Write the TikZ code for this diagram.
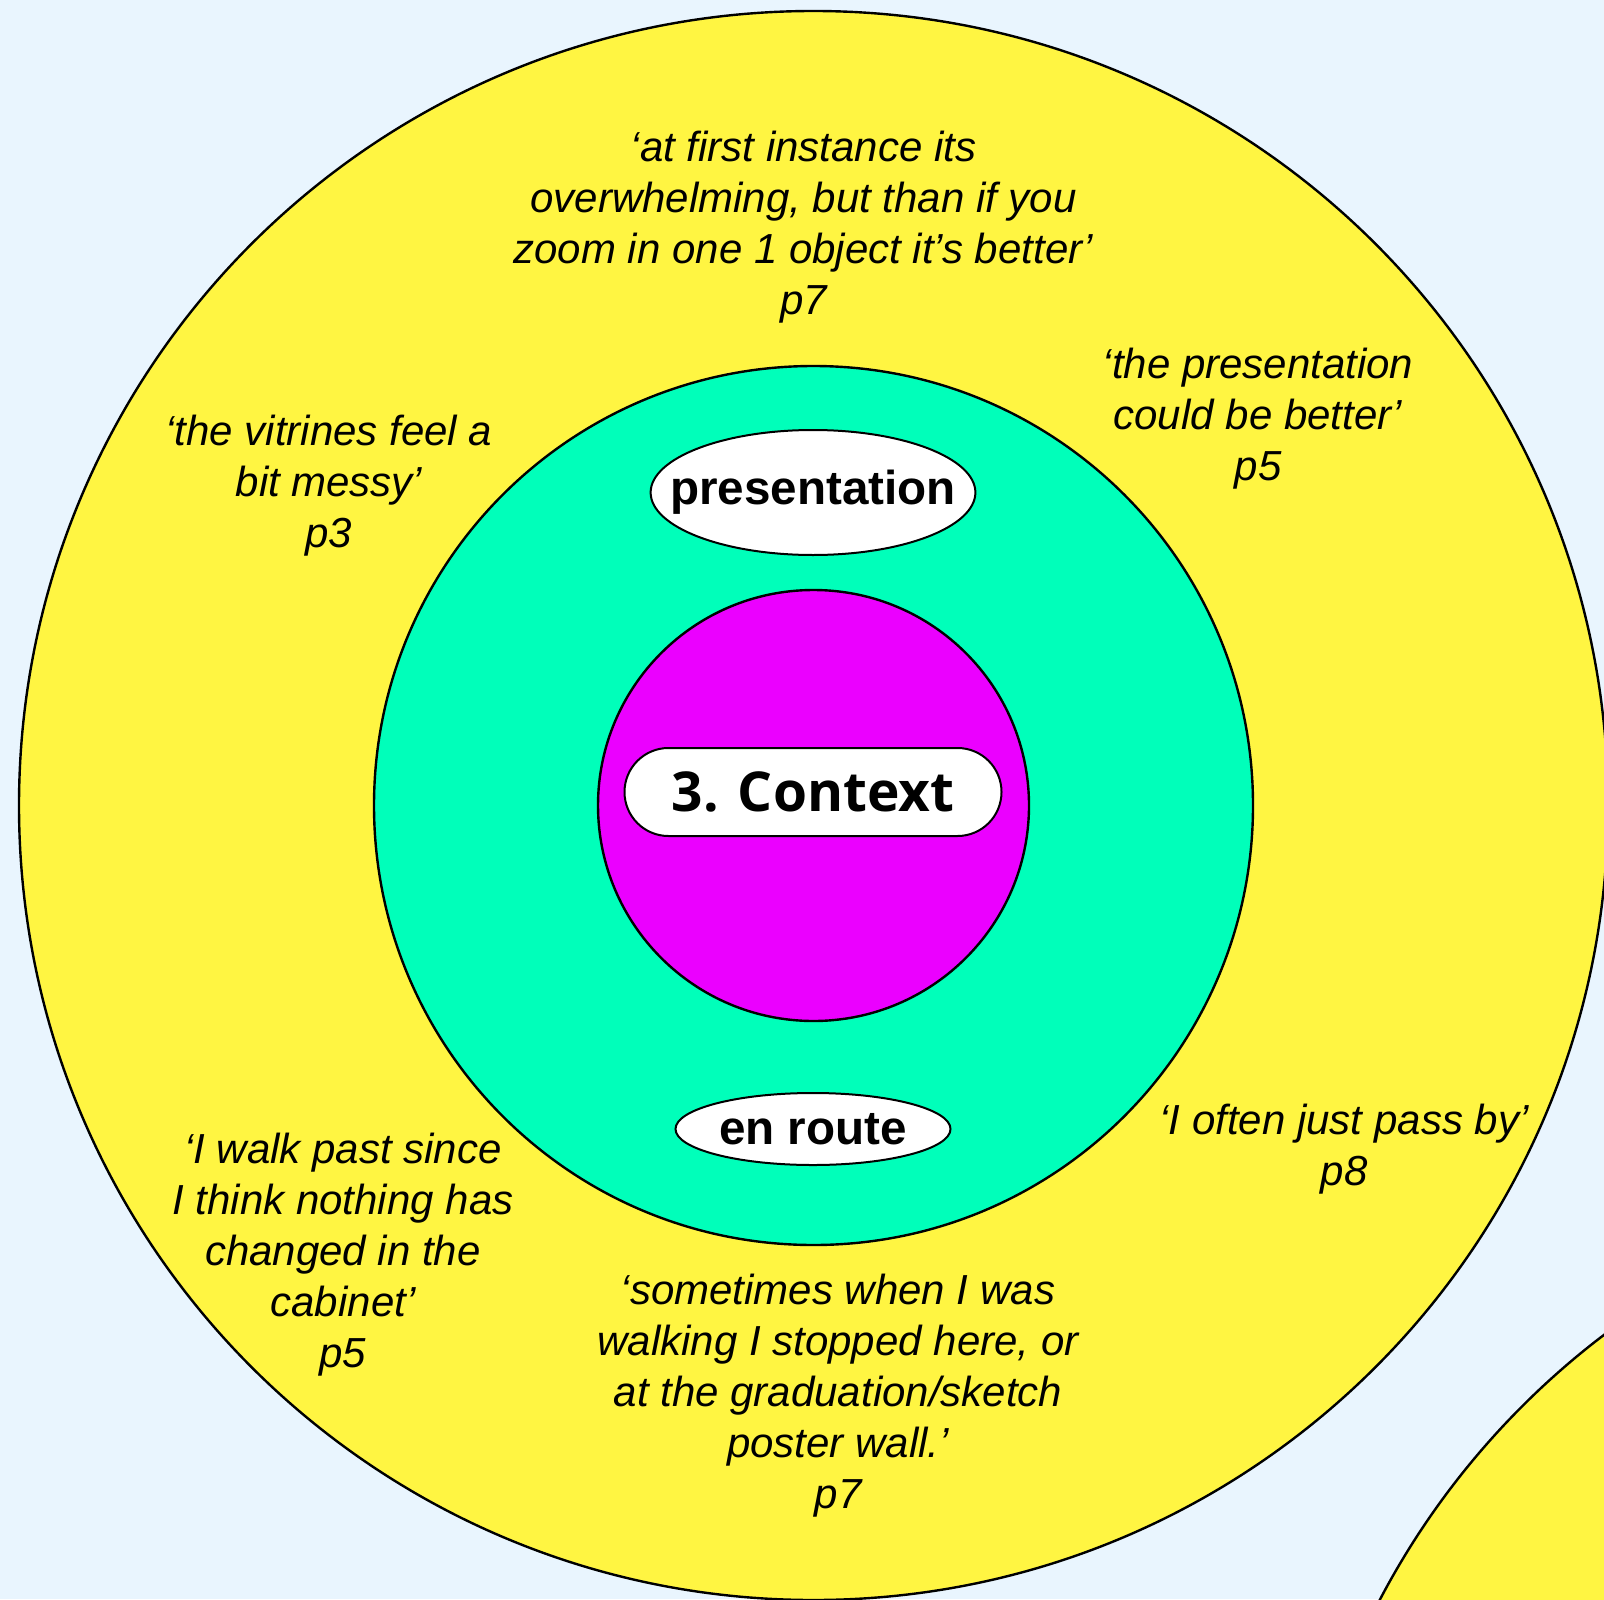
\documentclass[tikz,border=0pt]{standalone}
\usepackage{fontspec}
\setmainfont{Liberation Sans}
\newfontfamily\ctxfont{Open Sans}
\usetikzlibrary{shapes.geometric,shapes.misc}
\definecolor{skybg}{RGB}{233,245,254}
\definecolor{ringyellow}{RGB}{255,245,66}
\definecolor{ringgreen}{RGB}{0,255,186}
\definecolor{ringmagenta}{RGB}{235,0,255}
\begin{document}
\begin{tikzpicture}[x=0.5pt, y=-0.5pt,
    ring/.style={draw=black, line width=1.2pt},
    quote/.style={font=\fontsize{21}{25.5}\selectfont\itshape, align=center, inner sep=0pt},
    tag/.style={ellipse, draw=black, line width=1pt, fill=white, inner sep=0pt,
      font=\fontsize{23.8}{28}\selectfont\bfseries}]
  \fill[skybg] (0,0) rectangle (1604,1599);
  \useasboundingbox (0,0) rectangle (1604,1599);
  % rings
  \draw[ring, fill=ringyellow] (2084,1968) circle[radius=397.25pt];
  \draw[ring, fill=ringyellow] (813.5,805.5) circle[radius=397.25pt];
  \draw[ring, fill=ringgreen] (813.5,805.5) circle[radius=219.75pt];
  \draw[ring, fill=ringmagenta] (813.5,805.5) circle[radius=107.75pt];
  % centre label and themes
  \node[rounded rectangle, draw=black, line width=1pt, fill=white, inner sep=0pt,
    minimum width=188.5pt, minimum height=44pt,
    font=\ctxfont\bfseries\fontsize{27.5}{32}\selectfont] (context) at (813,792) {3. Context};
  \node[tag, inner xsep=-14pt, minimum width=162pt, minimum height=62.5pt] (presentation) at (813,492.5) {presentation};
  \node[tag, minimum width=137.5pt, minimum height=36pt] (enroute) at (813,1129) {en route};
  % quotes
  \node[quote] (qtop) at (803.5,227) {‘at first instance its\\overwhelming, but than if you\\zoom in one 1 object it’s better’\\p7};
  \node[quote] (qtopright) at (1258,419) {‘the presentation\\could be better’\\p5};
  \node[quote] (qtopleft) at (329,486) {‘the vitrines feel a\\bit messy’\\p3};
  \node[quote] (qright) at (1344,1149) {‘I often just pass by’\\p8};
  \node[quote] (qbotleft) at (343,1255) {‘I walk past since\\I think nothing has\\changed in the\\cabinet’\\p5};
  \node[quote] (qbotcentre) at (838,1395.5) {‘sometimes when I was\\walking I stopped here, or\\at the graduation/sketch\\poster wall.’\\p7};
\end{tikzpicture}
\end{document}
